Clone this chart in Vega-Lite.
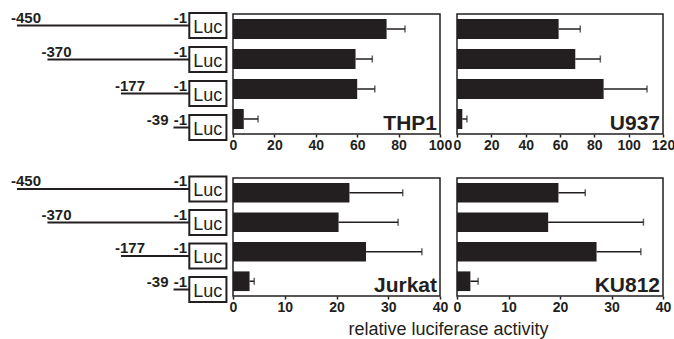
{
  "$schema": "https://vega.github.io/schema/vega-lite/v6.json",
  "padding": {"left": 0, "top": 10, "right": 2, "bottom": 0},
  "autosize": {"type": "pad"},
  "bounds": "flush",
  "columns": 3,
  "spacing": {"column": 17, "row": 44},
  "config": {
    "font": "Liberation Sans",
    "view": {"stroke": "#231f20", "strokeWidth": 1.5},
    "axisX": {
      "domain": false, "grid": false, "title": null,
      "tickSize": 3, "tickWidth": 1.5, "tickColor": "#231f20",
      "labelFont": "Liberation Sans", "labelFontWeight": "bold", "labelFontSize": 14,
      "labelColor": "#231f20", "labelPadding": 1, "labelOverlap": false, "labelFlush": false
    }
  },
  "datasets": {
    "constructs": [
      {"construct": "-450", "start": -450},
      {"construct": "-370", "start": -370},
      {"construct": "-177", "start": -177},
      {"construct": "-39", "start": -39}
    ],
    "bars": [
      {"cell": "THP1", "construct": "-450", "mean": 74.2, "upper": 83.1},
      {"cell": "THP1", "construct": "-370", "mean": 59.2, "upper": 67.3},
      {"cell": "THP1", "construct": "-177", "mean": 60.0, "upper": 68.5},
      {"cell": "THP1", "construct": "-39", "mean": 5.2, "upper": 12.1},
      {"cell": "U937", "construct": "-450", "mean": 59.2, "upper": 71.8},
      {"cell": "U937", "construct": "-370", "mean": 68.9, "upper": 83.5},
      {"cell": "U937", "construct": "-177", "mean": 85.4, "upper": 110.7},
      {"cell": "U937", "construct": "-39", "mean": 3.1, "upper": 5.8},
      {"cell": "Jurkat", "construct": "-450", "mean": 22.5, "upper": 32.8},
      {"cell": "Jurkat", "construct": "-370", "mean": 20.4, "upper": 31.9},
      {"cell": "Jurkat", "construct": "-177", "mean": 25.7, "upper": 36.5},
      {"cell": "Jurkat", "construct": "-39", "mean": 3.2, "upper": 4.1},
      {"cell": "KU812", "construct": "-450", "mean": 19.7, "upper": 24.9},
      {"cell": "KU812", "construct": "-370", "mean": 17.7, "upper": 36.2},
      {"cell": "KU812", "construct": "-177", "mean": 27.1, "upper": 35.7},
      {"cell": "KU812", "construct": "-39", "mean": 2.6, "upper": 4.1}
    ]
  },
  "concat": [
    {
      "width": 216, "height": 120,
      "view": {"stroke": null},
      "data": {"name": "constructs"},
      "encoding": {
        "y": {"field": "construct", "type": "nominal", "sort": ["-450", "-370", "-177", "-39"],
              "scale": {"range": [-5.5, 130.5], "paddingInner": 0.26, "paddingOuter": 0.13}, "axis": null}
      },
      "layer": [
        {"mark": {"type": "rule", "color": "#231f20", "strokeWidth": 2},
         "encoding": {"x": {"field": "start", "type": "quantitative", "scale": {"domain": [-494.6, 104.1], "range": [0, 228], "nice": false, "zero": false}, "axis": null},
                      "x2": {"datum": 2.5}}},
        {"mark": {"type": "rect", "fill": "white", "stroke": "#231f20", "strokeWidth": 2},
         "encoding": {"x": {"datum": 2.5}, "x2": {"datum": 100}}},
        {"mark": {"type": "text", "fontSize": 18, "color": "#231f20", "baseline": "middle", "align": "center", "dy": 2},
         "encoding": {"x": {"datum": 51}, "text": {"value": "Luc"}}},
        {"mark": {"type": "text", "fontSize": 15, "fontWeight": "bold", "color": "#231f20", "baseline": "alphabetic", "align": "right", "dx": -1, "dy": -3},
         "encoding": {"x": {"datum": -1}, "text": {"value": "-1"}}},
        {"transform": [{"filter": "datum.start < -100"}],
         "mark": {"type": "text", "fontSize": 15, "fontWeight": "bold", "color": "#231f20", "baseline": "alphabetic", "align": "left", "dx": -6, "dy": -3},
         "encoding": {"x": {"field": "start", "type": "quantitative"}, "text": {"field": "construct"}}},
        {"transform": [{"filter": "datum.start >= -100"}],
         "mark": {"type": "text", "fontSize": 15, "fontWeight": "bold", "color": "#231f20", "baseline": "alphabetic", "align": "right", "dx": -5, "dy": -3},
         "encoding": {"x": {"field": "start", "type": "quantitative"}, "text": {"field": "construct"}}}
      ]
    },
    {
      "width": 207, "height": 120,
      "layer": [
        {
          "data": {"name": "bars"},
          "transform": [{"filter": "datum.cell === 'THP1'"}],
          "encoding": {
            "y": {"field": "construct", "type": "nominal", "sort": ["-450", "-370", "-177", "-39"], "scale": {"paddingInner": 0.333, "paddingOuter": 0.167}, "axis": null}
          },
          "layer": [
            {"mark": {"type": "bar", "color": "#231f20"},
             "encoding": {"x": {"field": "mean", "type": "quantitative", "scale": {"domain": [0, 100], "nice": false}, "axis": {"values": [0, 20, 40, 60, 80, 100], "labelOverlap": false}}}},
            {"mark": {"type": "rule", "color": "#231f20", "strokeWidth": 1.5},
             "encoding": {"x": {"field": "mean", "type": "quantitative"}, "x2": {"field": "upper"}}},
            {"mark": {"type": "tick", "orient": "vertical", "color": "#231f20", "size": 7, "thickness": 1.5},
             "encoding": {"x": {"field": "upper", "type": "quantitative"}}}
          ]
        },
        {
          "data": {"values": [{"cell": "THP1"}]},
          "mark": {"type": "text", "fontSize": 21, "fontWeight": "bold", "color": "#231f20", "align": "right", "baseline": "alphabetic", "dx": -3, "dy": -4},
          "encoding": {"x": {"value": "width"}, "y": {"value": "height"}, "text": {"field": "cell"}}
        }
      ]
    },
    {
      "width": 206, "height": 120,
      "layer": [
        {
          "data": {"name": "bars"},
          "transform": [{"filter": "datum.cell === 'U937'"}],
          "encoding": {
            "y": {"field": "construct", "type": "nominal", "sort": ["-450", "-370", "-177", "-39"], "scale": {"paddingInner": 0.333, "paddingOuter": 0.167}, "axis": null}
          },
          "layer": [
            {"mark": {"type": "bar", "color": "#231f20"},
             "encoding": {"x": {"field": "mean", "type": "quantitative", "scale": {"domain": [0, 120], "nice": false}, "axis": {"values": [0, 20, 40, 60, 80, 100, 120], "tickCount": 7, "labelOverlap": false}}}},
            {"mark": {"type": "rule", "color": "#231f20", "strokeWidth": 1.5},
             "encoding": {"x": {"field": "mean", "type": "quantitative"}, "x2": {"field": "upper"}}},
            {"mark": {"type": "tick", "orient": "vertical", "color": "#231f20", "size": 7, "thickness": 1.5},
             "encoding": {"x": {"field": "upper", "type": "quantitative"}}}
          ]
        },
        {
          "data": {"values": [{"cell": "U937"}]},
          "mark": {"type": "text", "fontSize": 21, "fontWeight": "bold", "color": "#231f20", "align": "right", "baseline": "alphabetic", "dx": -3, "dy": -4},
          "encoding": {"x": {"value": "width"}, "y": {"value": "height"}, "text": {"field": "cell"}}
        }
      ]
    },
    {
      "width": 216, "height": 118,
      "view": {"stroke": null},
      "data": {"name": "constructs"},
      "encoding": {
        "y": {"field": "construct", "type": "nominal", "sort": ["-450", "-370", "-177", "-39"],
              "scale": {"range": [-5.75, 128.25], "paddingInner": 0.26, "paddingOuter": 0.13}, "axis": null}
      },
      "layer": [
        {"mark": {"type": "rule", "color": "#231f20", "strokeWidth": 2},
         "encoding": {"x": {"field": "start", "type": "quantitative", "scale": {"domain": [-494.6, 104.1], "range": [0, 228], "nice": false, "zero": false}, "axis": null},
                      "x2": {"datum": 2.5}}},
        {"mark": {"type": "rect", "fill": "white", "stroke": "#231f20", "strokeWidth": 2},
         "encoding": {"x": {"datum": 2.5}, "x2": {"datum": 100}}},
        {"mark": {"type": "text", "fontSize": 18, "color": "#231f20", "baseline": "middle", "align": "center", "dy": 2},
         "encoding": {"x": {"datum": 51}, "text": {"value": "Luc"}}},
        {"mark": {"type": "text", "fontSize": 15, "fontWeight": "bold", "color": "#231f20", "baseline": "alphabetic", "align": "right", "dx": -1, "dy": -3},
         "encoding": {"x": {"datum": -1}, "text": {"value": "-1"}}},
        {"transform": [{"filter": "datum.start < -100"}],
         "mark": {"type": "text", "fontSize": 15, "fontWeight": "bold", "color": "#231f20", "baseline": "alphabetic", "align": "left", "dx": -6, "dy": -3},
         "encoding": {"x": {"field": "start", "type": "quantitative"}, "text": {"field": "construct"}}},
        {"transform": [{"filter": "datum.start >= -100"}],
         "mark": {"type": "text", "fontSize": 15, "fontWeight": "bold", "color": "#231f20", "baseline": "alphabetic", "align": "right", "dx": -5, "dy": -3},
         "encoding": {"x": {"field": "start", "type": "quantitative"}, "text": {"field": "construct"}}}
      ]
    },
    {
      "width": 207, "height": 118,
      "layer": [
        {
          "data": {"name": "bars"},
          "transform": [{"filter": "datum.cell === 'Jurkat'"}],
          "encoding": {
            "y": {"field": "construct", "type": "nominal", "sort": ["-450", "-370", "-177", "-39"], "scale": {"paddingInner": 0.333, "paddingOuter": 0.167}, "axis": null}
          },
          "layer": [
            {"mark": {"type": "bar", "color": "#231f20"},
             "encoding": {"x": {"field": "mean", "type": "quantitative", "scale": {"domain": [0, 40], "nice": false},
                                "axis": {"values": [0, 10, 20, 30, 40], "labelOverlap": false, "title": "relative luciferase activity", "titleX": 215, "titleFont": "Liberation Sans", "titleFontSize": 18, "titleFontWeight": "normal", "titleColor": "#231f20", "titleAlign": "center", "titlePadding": 6}}}},
            {"mark": {"type": "rule", "color": "#231f20", "strokeWidth": 1.5},
             "encoding": {"x": {"field": "mean", "type": "quantitative"}, "x2": {"field": "upper"}}},
            {"mark": {"type": "tick", "orient": "vertical", "color": "#231f20", "size": 7, "thickness": 1.5},
             "encoding": {"x": {"field": "upper", "type": "quantitative"}}}
          ]
        },
        {
          "data": {"values": [{"cell": "Jurkat"}]},
          "mark": {"type": "text", "fontSize": 21, "fontWeight": "bold", "color": "#231f20", "align": "right", "baseline": "alphabetic", "dx": -3, "dy": -4},
          "encoding": {"x": {"value": "width"}, "y": {"value": "height"}, "text": {"field": "cell"}}
        }
      ]
    },
    {
      "width": 206, "height": 118,
      "layer": [
        {
          "data": {"name": "bars"},
          "transform": [{"filter": "datum.cell === 'KU812'"}],
          "encoding": {
            "y": {"field": "construct", "type": "nominal", "sort": ["-450", "-370", "-177", "-39"], "scale": {"paddingInner": 0.333, "paddingOuter": 0.167}, "axis": null}
          },
          "layer": [
            {"mark": {"type": "bar", "color": "#231f20"},
             "encoding": {"x": {"field": "mean", "type": "quantitative", "scale": {"domain": [0, 40], "nice": false}, "axis": {"values": [0, 10, 20, 30, 40], "labelOverlap": false}}}},
            {"mark": {"type": "rule", "color": "#231f20", "strokeWidth": 1.5},
             "encoding": {"x": {"field": "mean", "type": "quantitative"}, "x2": {"field": "upper"}}},
            {"mark": {"type": "tick", "orient": "vertical", "color": "#231f20", "size": 7, "thickness": 1.5},
             "encoding": {"x": {"field": "upper", "type": "quantitative"}}}
          ]
        },
        {
          "data": {"values": [{"cell": "KU812"}]},
          "mark": {"type": "text", "fontSize": 21, "fontWeight": "bold", "color": "#231f20", "align": "right", "baseline": "alphabetic", "dx": -3, "dy": -4},
          "encoding": {"x": {"value": "width"}, "y": {"value": "height"}, "text": {"field": "cell"}}
        }
      ]
    }
  ]
}
